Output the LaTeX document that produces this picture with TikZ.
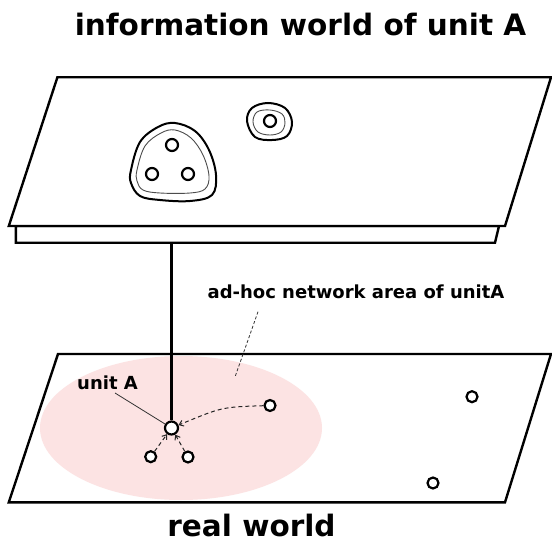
\documentclass[tikz,border=0pt]{standalone}
\usepackage{fontspec}
\setmainfont{DejaVu Sans}
\usetikzlibrary{arrows.meta}
\definecolor{areapink}{HTML}{FCE3E3}
\tikzset{
  plane/.style={draw=black, line width=2.4pt, fill=white, line join=miter},
  dot/.style={circle, draw=black, line width=2.2pt, fill=white, minimum size=11pt, inner sep=0pt},
  bigdot/.style={dot, minimum size=13pt},
  blobthick/.style={draw=black, line width=2pt},
  blobthin/.style={draw=black!70, line width=0.9pt},
  leader/.style={draw=black!80, line width=0.8pt},
  dleader/.style={draw=black!80, line width=0.8pt, dash pattern=on 3pt off 2pt},
  msg/.style={draw=black!85, line width=1pt, dash pattern=on 4pt off 3pt, -{Straight Barb[length=4pt,width=6pt]}},
  title/.style={font=\bfseries\fontsize{29.5}{32}\selectfont, anchor=base, inner sep=0pt},
  lbl/.style={font=\bfseries\fontsize{18}{20}\selectfont, anchor=base, inner sep=0pt},
}
\begin{document}
\begin{tikzpicture}[x=1pt,y=-1pt]
\useasboundingbox (0,0) rectangle (552,543);
% titles
\node[title] (ttop) at (300.5,36) {information world of unit A};
\node[title] (tbot) at (251.5,536) {real world};
% information world board
\draw[plane] (15.8,226) -- (15.8,242.7) -- (495,242.7) -- (499,226) -- cycle;
\draw[plane] (57.4,77.3) -- (551,77.3) -- (505,226) -- (8.8,226) -- cycle;
% big cluster
\draw[blobthick] plot[smooth cycle, tension=0.6] coordinates {(131,170) (140,142) (158,127) (175,123) (195,131) (209,150) (216,175) (212,195) (190,201) (160,200) (140,196) (131,183)};
\draw[blobthin] plot[smooth cycle, tension=0.6] coordinates {(137,170) (145,146) (161,133) (175,130) (191,138) (203,155) (209,176) (205,189) (190,193) (160,193) (143,190) (137,181)};
\node[bigdot, minimum size=12pt] (c1) at (172,145) {};
\node[bigdot, minimum size=12pt] (c2) at (152,174) {};
\node[bigdot, minimum size=12pt] (c3) at (188,174) {};
% small cluster
\draw[blobthick] plot[smooth cycle, tension=0.6] coordinates {(247,121) (252,108) (268,103) (285,108) (292,122) (287,136) (272,140) (255,137)};
\draw[blobthin] plot[smooth cycle, tension=0.6] coordinates {(253,122) (257,112) (270,110) (282,114) (285,123) (281,132) (270,135) (258,132)};
\node[bigdot, minimum size=12pt] (s1) at (270,121) {};
\coordinate (boardbot) at (171.5,242.7);
% real world plane
\draw[plane] (58,354) -- (551,354) -- (505,502.3) -- (8.8,502.3) -- cycle;
\fill[areapink] (181,428) ellipse [x radius=141, y radius=72];
% nodes in real world
\node[bigdot] (ua) at (171.5,428) {};
\node[dot] (n1) at (270,405.5) {};
\node[dot] (n2) at (150.7,456.7) {};
\node[dot] (n3) at (188,457) {};
\node[dot] (n4) at (472,396.7) {};
\node[dot] (n5) at (433,483) {};
% link from information world to unit A
\draw[line width=2.6pt] (boardbot) -- (ua);
% messages
\draw[msg] (n1) .. controls (222,407) .. (ua);
\draw[msg] (n2) -- (ua);
\draw[msg] (n3) -- (ua);
% labels
\node[lbl] (lua) at (107.5,389) {unit A};
\draw[leader] (115,393) -- (ua);
\node[lbl] (lnet) at (356,298) {ad-hoc network area of unitA};
\coordinate (netend) at (235,377);
\draw[dleader] (258,311.7) -- (netend);
\end{tikzpicture}
\end{document}
